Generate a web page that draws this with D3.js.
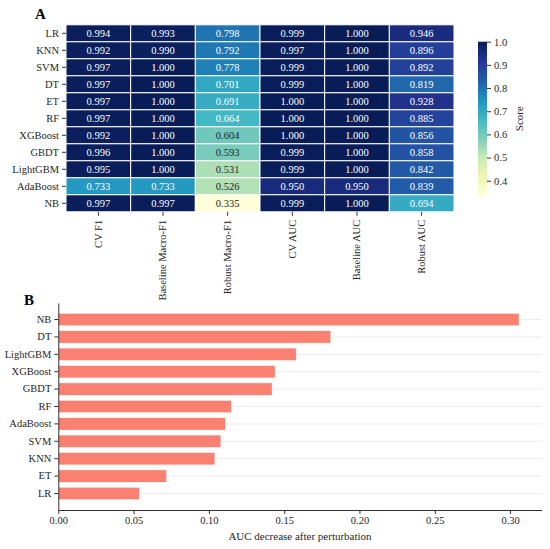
<!DOCTYPE html>
<html><head><meta charset="utf-8">
<script src="https://cdn.jsdelivr.net/npm/d3@7"></script>
<style>body{margin:0;background:#fff}svg{display:block}text{font-family:"Liberation Serif","Times New Roman",serif}</style>
</head><body><svg id="c" width="550" height="549"></svg>
<script>
const models = ["LR","KNN","SVM","DT","ET","RF","XGBoost","GBDT","LightGBM","AdaBoost","NB"];
const metrics = ["CV F1","Baseline Macro-F1","Robust Macro-F1","CV AUC","Baseline AUC","Robust AUC"];
const cvF1 =        [0.994,0.992,0.997,0.997,0.997,0.997,0.992,0.996,0.995,0.733,0.997];
const baseF1 =      [0.993,0.990,1.000,1.000,1.000,1.000,1.000,1.000,1.000,0.733,0.997];
const robustF1 =    [0.798,0.792,0.778,0.701,0.691,0.664,0.604,0.593,0.531,0.526,0.335];
const cvAUC =       [0.999,0.997,0.999,0.999,1.000,1.000,1.000,0.999,0.999,0.950,0.999];
const baseAUC =     [1.000,1.000,1.000,1.000,1.000,1.000,1.000,1.000,1.000,0.950,1.000];
const robustAUC =   [0.946,0.896,0.892,0.819,0.928,0.885,0.856,0.858,0.842,0.839,0.694];
const cbTicks = [0.4,0.5,0.6,0.7,0.8,0.9,1.0];
const barModels = ["NB","DT","LightGBM","XGBoost","GBDT","RF","AdaBoost","SVM","KNN","ET","LR"];
const aucDrop =   [0.306,0.181,0.158,0.144,0.142,0.115,0.111,0.108,0.104,0.072,0.054];
const xTicks = [0,0.05,0.10,0.15,0.20,0.25,0.30];
const ylgnbu = ["#ffffd9","#edf8b1","#c7e9b4","#7fcdbb","#41b6c4","#1d91c0","#225ea8","#253494","#081d58"];

const FONT = '"Liberation Serif","Times New Roman",serif';
const svg = d3.select("#c");
const cols = [cvF1,baseF1,robustF1,cvAUC,baseAUC,robustAUC];
const cells = [];
models.forEach((m,i)=>cols.forEach((c,j)=>cells.push({m, k:metrics[j], v:c[i]})));

const vmin = d3.min(robustF1), vmax = 1.0;
const color = d3.scaleLinear()
  .domain(ylgnbu.map((c,i)=>vmin+(vmax-vmin)*i/(ylgnbu.length-1)))
  .range(ylgnbu).interpolate(d3.interpolateRgb).clamp(true);
const hx = d3.scaleBand().domain(metrics).range([66,454]);
const hy = d3.scaleBand().domain(models).range([24.8,211.8]);

function lum(c){const r=d3.rgb(c);const f=v=>{v/=255;return v<=0.03928?v/12.92:Math.pow((v+0.055)/1.055,2.4)};return 0.2126*f(r.r)+0.7152*f(r.g)+0.0722*f(r.b);}

const gH = svg.append("g");
gH.selectAll("rect.cell").data(cells).join("rect").attr("class","cell")
  .attr("x",d=>hx(d.k)).attr("y",d=>hy(d.m)).attr("width",hx.bandwidth()).attr("height",hy.bandwidth())
  .attr("fill",d=>color(d.v)).attr("stroke","#fff").attr("stroke-width",1);
gH.selectAll("text.val").data(cells).join("text").attr("class","val")
  .attr("x",d=>hx(d.k)+hx.bandwidth()/2).attr("y",d=>hy(d.m)+hy.bandwidth()/2)
  .attr("text-anchor","middle").attr("dominant-baseline","central").attr("font-size",10.5)
  .attr("fill",d=>lum(color(d.v))>0.408?"#262626":"#fff").text(d=>d.v.toFixed(3));

function styleAxis(g, keepDomain){
  g.attr("font-family",FONT);
  if(!keepDomain) g.select(".domain").remove(); else g.select(".domain").attr("stroke","#333");
  g.selectAll("line").attr("stroke","#333");
  g.selectAll("text").attr("font-size",10.5).attr("fill","#262626").attr("font-family",FONT);
}

const ayH = svg.append("g").attr("transform","translate(66,0)").call(d3.axisLeft(hy).tickSize(4).tickPadding(3));
styleAxis(ayH,false);
const axH = svg.append("g").attr("transform","translate(0,211.8)").call(d3.axisBottom(hx).tickSize(4).tickPadding(4));
styleAxis(axH,false);
axH.selectAll("text").attr("transform","rotate(-90)").attr("text-anchor","end").attr("dy","0.32em").attr("x",-8).attr("y",0);

// colorbar
const cb = d3.scaleLinear().domain([vmin, vmax]).range([195.8,41.7]);
const defs = svg.append("defs");
const lg = defs.append("linearGradient").attr("id","cbg").attr("x1",0).attr("y1",1).attr("x2",0).attr("y2",0);
d3.range(0,1.0001,0.02).forEach(t=>lg.append("stop").attr("offset",t).attr("stop-color",color(vmin+t*(vmax-vmin))));
svg.append("rect").attr("x",478).attr("y",cb(vmax)).attr("width",9).attr("height",cb(vmin)-cb(vmax)).attr("fill","url(#cbg)");
const acb = svg.append("g").attr("transform","translate(487,0)").call(d3.axisRight(cb).tickValues(cbTicks).tickFormat(d3.format(".1f")).tickSize(4).tickPadding(3));
styleAxis(acb,false);
svg.append("text").attr("transform","translate(519,118.7) rotate(-90)").attr("text-anchor","middle").attr("dominant-baseline","central").attr("font-size",11).attr("fill","#262626").text("Score");

svg.append("text").attr("x",35).attr("y",19).attr("font-size",15).attr("font-weight","bold").text("A");

// Bar chart
const bx = d3.scaleLinear().domain([0,0.321]).range([58.3,541.7]);
const by = d3.scaleBand().domain(barModels).range([303,510]).paddingInner(0.28).paddingOuter(0.59);
const gB = svg.append("g");
gB.selectAll("line.grid").data(barModels).join("line").attr("class","grid")
  .attr("x1",bx(0)).attr("x2",bx.range()[1]).attr("y1",d=>by(d)+by.bandwidth()/2).attr("y2",d=>by(d)+by.bandwidth()/2)
  .attr("stroke","#ebebeb").attr("stroke-width",1);
gB.selectAll("rect.bar").data(barModels.map((m,i)=>({m,v:aucDrop[i]}))).join("rect").attr("class","bar")
  .attr("x",bx(0)).attr("y",d=>by(d.m)).attr("width",d=>bx(d.v)-bx(0)).attr("height",by.bandwidth())
  .attr("fill","#fa8072").attr("stroke","#fff").attr("stroke-width",0.6);
const ayB = svg.append("g").attr("transform",`translate(${bx(0)},0)`).call(d3.axisLeft(by).tickSize(4).tickPadding(3).tickSizeOuter(0));
styleAxis(ayB,true);
const axB = svg.append("g").attr("transform","translate(0,510)").call(d3.axisBottom(bx).tickValues(xTicks).tickFormat(d3.format(".2f")).tickSize(4).tickPadding(3).tickSizeOuter(0));
styleAxis(axB,true);
svg.append("text").attr("x",300).attr("y",540).attr("text-anchor","middle").attr("font-size",11).attr("fill","#262626").text("AUC decrease after perturbation");
svg.append("text").attr("x",24).attr("y",305).attr("font-size",15).attr("font-weight","bold").text("B");
</script></body></html>
